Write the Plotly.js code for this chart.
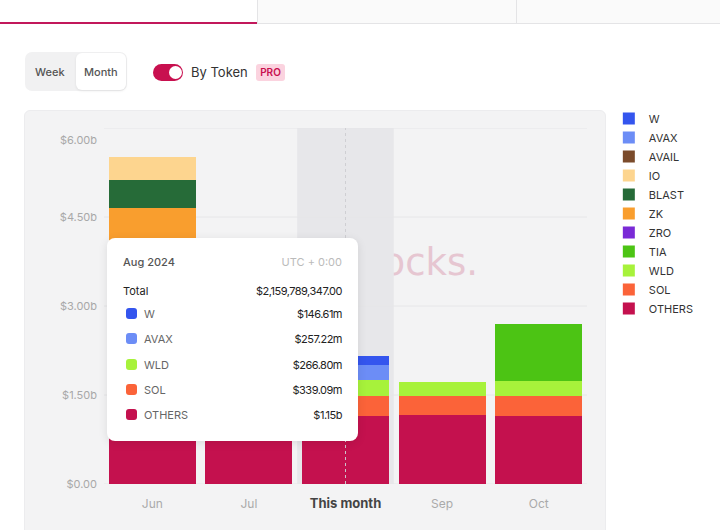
<!DOCTYPE html>
<html>
<head>
<meta charset="utf-8">
<script src="https://cdn.plot.ly/plotly-3.0.1.min.js"></script>
<style>
  html, body { margin: 0; padding: 0; background: #ffffff; }
  body { width: 720px; height: 530px; overflow: hidden; position: relative; font-family: Inter, "Noto Sans", sans-serif; }
  .abs { position: absolute; }
  #tabs-left { left: 0; top: 0; width: 257px; height: 22px; background: #fff; border-bottom: 2px solid #c2185b; }
  #tabs-right { left: 257px; top: 0; width: 463px; height: 24px; background: #fafafa; border-bottom: 1px solid #e4e4e6; border-left: 1px solid #e4e4e6; box-sizing: border-box; }
  #tab-div { left: 516px; top: 0; width: 1px; height: 24px; background: #e4e4e6; }
  #seg { left: 25px; top: 52px; width: 102px; height: 39px; background: #f1f1f2; border-radius: 7px; }
  #seg-sel { left: 76px; top: 53px; width: 50px; height: 37px; background: #fff; border-radius: 6px; box-shadow: 0 1px 3px rgba(0,0,0,0.08); }
  .seg-t { font-size: 11px; font-weight: 500; color: #555; top: 65px; line-height: 14px; }
  #toggle { left: 153px; top: 64px; width: 30px; height: 17px; background: #c8104f; border-radius: 9px; }
  #knob { left: 169px; top: 66px; width: 13px; height: 13px; background: #fff; border-radius: 50%; }
  #bytoken { left: 191px; top: 63px; font-size: 13px; color: #333; line-height: 18px; }
  #pro { left: 256px; top: 64px; width: 29px; height: 17px; background: #fbd3df; border-radius: 3px; color: #c8104f; font-size: 10px; font-weight: 600; text-align: center; line-height: 17px; }
  #panel { left: 24px; top: 110px; width: 582px; height: 440px; background: #f3f3f4; border-radius: 6px; border: 1px solid #ececee; box-sizing: border-box; }
  #wm { right: 242px; top: 240px; font-family: "DejaVu Sans", sans-serif; font-size: 37px; color: #e6c6d1; line-height: 46px; white-space: nowrap; }
  #chart { left: 0; top: 0; width: 720px; height: 530px; }
  #tip { left: 107px; top: 238px; width: 251px; height: 203px; background: #fff; border-radius: 8px; box-shadow: 0 2px 10px rgba(0,0,0,0.10); font-size: 11px; }
  .tip-row { position: absolute; left: 16px; right: 16px; height: 16px; line-height: 16px; }
  .tip-row .l { position: absolute; left: 0; color: #666; }
  .tip-row .r { position: absolute; right: 0; color: #222; letter-spacing: -0.5px; }
  .sw { position: absolute; left: 3px; top: 2px; width: 11px; height: 11px; border-radius: 3px; }
</style>
</head>
<body>
<div id="tabs-left" class="abs"></div>
<div id="tabs-right" class="abs"></div>
<div id="tab-div" class="abs"></div>
<div id="seg" class="abs"></div>
<div id="seg-sel" class="abs"></div>
<div class="abs seg-t" style="left:35px;">Week</div>
<div class="abs seg-t" style="left:84px;">Month</div>
<div id="toggle" class="abs"></div>
<div id="knob" class="abs"></div>
<div id="bytoken" class="abs">By Token</div>
<div id="pro" class="abs">PRO</div>
<div id="panel" class="abs"></div>
<div id="wm" class="abs">nlocks.</div>
<div id="chart" class="abs"></div>
<div id="tip" class="abs"></div>
<script>
// ---- data (values in billions USD) ----
const categories = ["Jun", "Jul", "This month", "Sep", "Oct"];
const OTHERS = [1.16, 1.16, 1.15007, 1.163, 1.146];
const SOL    = [0.34, 0.34, 0.33909, 0.325, 0.337];
const WLD    = [0.25, 0.26, 0.26680, 0.236, 0.253];
const TIA    = [0.60, 0.10, 0, 0, 0.955];
const ZRO    = [0.45, 0, 0, 0, 0];
const ZK     = [1.85, 0, 0, 0, 0];
const BLAST  = [0.467, 0, 0, 0, 0];
const IO     = [0.398, 0, 0, 0, 0];
const AVAIL  = [0, 0.45, 0, 0, 0];
const AVAX   = [0, 0.26, 0.25722, 0, 0];
const W      = [0, 0.15, 0.14661, 0, 0];

const yTickVals = [0, 1.5, 3, 4.5, 6];
const yTickText = ["$0.00", "$1.50b", "$3.00b", "$4.50b", "$6.00b"];

const tooltipTitle = "Aug 2024";
const tooltipZone = "UTC + 0:00";
const tooltipTotal = "$2,159,789,347.00";
const tooltipIndex = 2; // "This month"

// ---- styles ----
const seriesList = [
  {name: "OTHERS", y: OTHERS, color: "#c4114e"},
  {name: "SOL",    y: SOL,    color: "#fb6339"},
  {name: "WLD",    y: WLD,    color: "#a7f23b"},
  {name: "TIA",    y: TIA,    color: "#4cc414"},
  {name: "ZRO",    y: ZRO,    color: "#7a2ad6"},
  {name: "ZK",     y: ZK,     color: "#f99e2e"},
  {name: "BLAST",  y: BLAST,  color: "#266b38"},
  {name: "IO",     y: IO,     color: "#fdd58f"},
  {name: "AVAIL",  y: AVAIL,  color: "#7b4b2b"},
  {name: "AVAX",   y: AVAX,   color: "#6c8df6"},
  {name: "W",      y: W,      color: "#3455ee"}
];

const traces = seriesList.map(s => ({
  type: "bar",
  name: s.name,
  x: categories,
  y: s.y,
  marker: {color: s.color, line: {width: 0}},
  hoverinfo: "skip"
}));

const M = {l: 104, r: 133, t: 128, b: 46};
const plotH = 530 - M.t - M.b;
const yMax = 6;
const pxPerUnit = plotH / yMax;
// top label sits a little below its gridline
const labelPos = yTickVals.map(v => v === yMax ? v - 12 / pxPerUnit : v);

const shapes = [
  {type: "rect", xref: "x", yref: "paper", x0: tooltipIndex - 0.5, x1: tooltipIndex + 0.5, y0: 0, y1: 1,
   fillcolor: "#e7e7ea", line: {width: 0}, layer: "below"}
];
yTickVals.forEach(v => shapes.push({
  type: "line", xref: "paper", yref: "y", x0: 0, x1: 1, y0: v, y1: v,
  line: {color: "#e6e6e8", width: 1}, layer: "below"
}));
shapes.push({type: "line", xref: "x", yref: "paper", x0: tooltipIndex, x1: tooltipIndex, y0: 0, y1: 1,
  line: {color: "rgba(205,205,210,0.95)", width: 1, dash: "3px,3px"}, layer: "above"});

const tickText = categories.map((c, i) => i === tooltipIndex
  ? "<span style='font-size:13px;color:#444'><b>" + c + "</b></span>" : c);

const layout = {
  width: 720, height: 530,
  margin: M,
  paper_bgcolor: "rgba(0,0,0,0)",
  plot_bgcolor: "rgba(0,0,0,0)",
  barmode: "stack",
  bargap: 0.1,
  font: {family: "Inter, 'Noto Sans', sans-serif", color: "#333"},
  xaxis: {
    type: "category", tickvals: categories, ticktext: tickText,
    showgrid: false, zeroline: false, showline: false, ticks: "",
    tickfont: {size: 12, color: "#aaaaaa"}, ticklabelstandoff: 11, fixedrange: true
  },
  yaxis: {
    range: [0, yMax], tickvals: labelPos, ticktext: yTickText,
    showgrid: false, zeroline: false, showline: false, ticks: "",
    tickfont: {size: 11, color: "#a8a8a8"}, ticklabelstandoff: 6, fixedrange: true
  },
  shapes: shapes,
  showlegend: true,
  legend: {
    x: 1.0452, xanchor: "left", y: 1.0676, yanchor: "top",
    traceorder: "reversed",
    font: {size: 11, color: "#333"},
    bgcolor: "rgba(0,0,0,0)", itemclick: false, itemdoubleclick: false
  }
};

Plotly.newPlot("chart", traces, layout, {displayModeBar: false, staticPlot: true});

// ---- tooltip built from the data ----
function fmt(v) {
  return v >= 1 ? "$" + v.toFixed(2) + "b" : "$" + (v * 1000).toFixed(2) + "m";
}
const tip = document.getElementById("tip");
let html = "";
html += "<div class='tip-row' style='top:16px'><span class='l' style='color:#555;font-weight:500'>" + tooltipTitle +
        "</span><span class='r' style='color:#bbb;letter-spacing:0'>" + tooltipZone + "</span></div>";
html += "<div class='tip-row' style='top:45px'><span class='l' style='color:#222'>Total</span><span class='r'>" +
        tooltipTotal + "</span></div>";
const rows = seriesList.slice().reverse().filter(s => s.y[tooltipIndex] > 0);
rows.forEach((s, k) => {
  const top = 68 + k * 25.3;
  html += "<div class='tip-row' style='top:" + top + "px'><span class='sw' style='background:" + s.color +
          "'></span><span class='l' style='left:21px'>" + s.name + "</span><span class='r'>" +
          fmt(s.y[tooltipIndex]) + "</span></div>";
});
tip.innerHTML = html;
</script>
</body>
</html>
